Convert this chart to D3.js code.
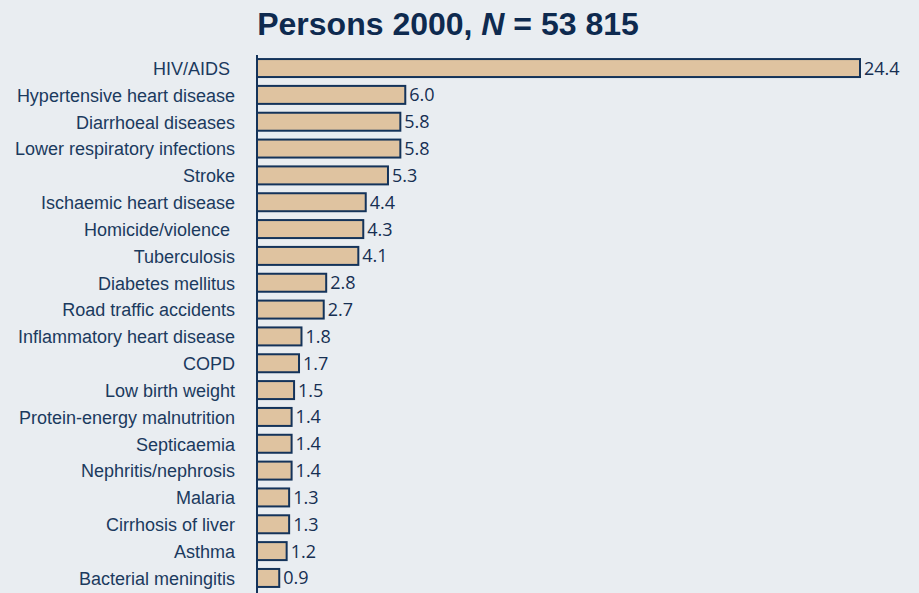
<!DOCTYPE html>
<html lang="en">
<head>
<meta charset="utf-8">
<title>Persons 2000</title>
<script src="https://cdn.jsdelivr.net/npm/d3@7"></script>
<style>
  html, body { margin: 0; padding: 0; background: #e9edf1; }
  svg { display: block; }
  .label { font-family: "Liberation Sans", Arial, sans-serif; font-size: 18px; fill: #1b3a5e; white-space: pre; }
  .value { font-family: "Open Sans", sans-serif; font-size: 18px; fill: #162f52; }
  .title { font-family: "Liberation Sans", Arial, sans-serif; font-size: 32px; font-weight: bold; fill: #0e2a4f; }
</style>
</head>
<body>
<div id="chart"></div>
<script>
var causes = ["HIV/AIDS ", "Hypertensive heart disease", "Diarrhoeal diseases",
  "Lower respiratory infections", "Stroke", "Ischaemic heart disease",
  "Homicide/violence ", "Tuberculosis", "Diabetes mellitus", "Road traffic accidents",
  "Inflammatory heart disease", "COPD", "Low birth weight", "Protein-energy malnutrition",
  "Septicaemia", "Nephritis/nephrosis", "Malaria", "Cirrhosis of liver", "Asthma",
  "Bacterial meningitis"];
var percents = [24.4, 6.0, 5.8, 5.8, 5.3, 4.4, 4.3, 4.1, 2.8, 2.7, 1.8, 1.7, 1.5, 1.4, 1.4, 1.4, 1.3, 1.3, 1.2, 0.9];

var width = 919, height = 593;
var x0 = 257;

var svg = d3.select("#chart").append("svg")
    .attr("width", width)
    .attr("height", height);

var x = d3.scaleLinear().domain([0, 24.4]).range([x0, 860]);
var y = d3.scaleBand().domain(causes).range([54.5, 591.5]).paddingInner(0.33).paddingOuter(0.17);

svg.append("text")
    .attr("class", "title")
    .attr("x", 448)
    .attr("y", 35)
    .attr("text-anchor", "middle")
    .html('Persons 2000, <tspan font-style="italic">N</tspan> = 53 815');

svg.append("g").selectAll("rect")
    .data(causes)
  .enter().append("rect")
    .attr("x", x(0))
    .attr("y", function(d) { return y(d); })
    .attr("width", function(d, i) { return x(percents[i]) - x(0); })
    .attr("height", y.bandwidth())
    .attr("fill", "#dfc3a0")
    .attr("stroke", "#14335a")
    .attr("stroke-width", 2);

svg.append("line")
    .attr("x1", x0).attr("x2", x0)
    .attr("y1", 55).attr("y2", height)
    .attr("stroke", "#14335a")
    .attr("stroke-width", 2);

svg.append("g").selectAll("text")
    .data(causes)
  .enter().append("text")
    .attr("class", "label")
    .attr("x", 235)
    .attr("y", function(d) { return y(d) + y.bandwidth() / 2; })
    .attr("dy", "0.38em")
    .attr("text-anchor", "end")
    .text(function(d) { return d; });

svg.append("g").selectAll("text")
    .data(percents)
  .enter().append("text")
    .attr("class", "value")
    .attr("x", function(d) { return x(d) + 4; })
    .attr("y", function(d, i) { return y(causes[i]) + y.bandwidth() / 2; })
    .attr("dy", "0.36em")
    .text(function(d) { return d.toFixed(1); });
</script>
</body>
</html>
